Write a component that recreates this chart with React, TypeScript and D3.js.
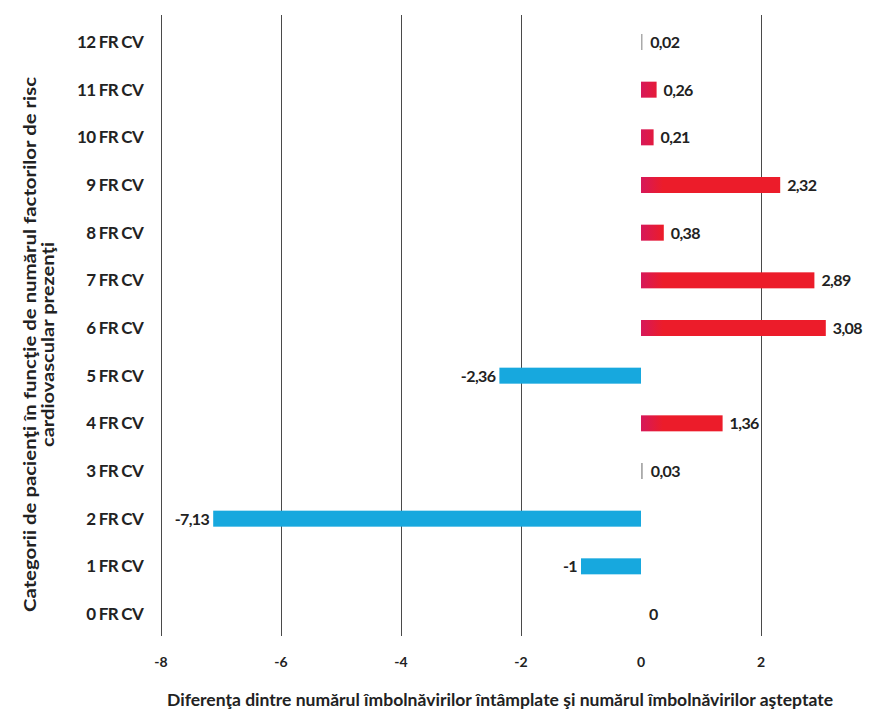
import React from "react";
import * as d3 from "d3";

const categories = ["12 FR CV","11 FR CV","10 FR CV","9 FR CV","8 FR CV","7 FR CV","6 FR CV","5 FR CV","4 FR CV","3 FR CV","2 FR CV","1 FR CV","0 FR CV"];
const values = [0.02,0.26,0.21,2.32,0.38,2.89,3.08,-2.36,1.36,0.03,-7.13,-1,0];
const labels = ["0,02","0,26","0,21","2,32","0,38","2,89","3,08","-2,36","1,36","0,03","-7,13","-1","0"];
const xTicks = [-8,-6,-4,-2,0,2];
const xTitle = "Diferenţa dintre numărul îmbolnăvirilor întâmplate şi numărul îmbolnăvirilor aşteptate";
const yTitle1 = "Categorii de pacienţi în funcţie de numărul  factorilor de risc";
const yTitle2 = "cardiovascular prezenţi";

const W = 877, H = 714;
const FONT = "Lato, 'Open Sans', sans-serif";

export default function App() {
  const x = d3.scaleLinear().domain([-8, 4]).range([161, 881]);
  const y = d3.scalePoint<string>().domain(categories).range([42, 614]);
  const barH = 16;
  const x0 = x(0);
  return (
    <svg width={W} height={H} style={{ position: "absolute", left: 0, top: 0, background: "#fff" }} fontFamily={FONT}>
      <defs>
        <linearGradient id="redg" gradientUnits="userSpaceOnUse" x1={x0} x2={x0 + 22} y1={0} y2={0}>
          <stop offset="0" stopColor="#d6185a" />
          <stop offset="1" stopColor="#ec1c2a" />
        </linearGradient>
      </defs>
      {xTicks.filter((t) => t !== 0).map((t) => (
        <line key={t} x1={x(t) + 0.5} x2={x(t) + 0.5} y1={15} y2={636} stroke="#4a4a4a" strokeWidth={1} />
      ))}
      {xTicks.map((t) => (
        <text key={"t" + t} x={x(t)} y={667} textAnchor="middle" fontSize={14} fontWeight={700} fill="#222">{t}</text>
      ))}
      {categories.map((c, i) => {
        const v = values[i];
        const yc = y(c)!;
        const xs = Math.min(x(v), x0);
        const w = Math.abs(x(v) - x0);
        const small = Math.abs(v) < 0.1;
        return (
          <g key={c}>
            <text x={143} y={yc + 6} textAnchor="end" fontSize={17} fontWeight={700} fill="#222" letterSpacing={-0.7}>{c}</text>
            {v !== 0 && (
              <rect x={xs} y={yc - barH / 2} width={Math.max(w, 1.5)} height={barH}
                fill={small ? "#aaa" : v > 0 ? "url(#redg)" : "#17a8de"} />
            )}
            <text x={v < 0 ? x(v) - 4 : x(Math.max(v, 0)) + (small ? 8 : 7)} y={yc + 6}
              textAnchor={v < 0 ? "end" : "start"} fontSize={16} fontWeight={700} fill="#222" letterSpacing={-0.6}>{labels[i]}</text>
          </g>
        );
      })}
      <text x={500} y={706} textAnchor="middle" fontSize={17} fontWeight={700} fill="#222"
        textLength={666} lengthAdjust="spacingAndGlyphs">{xTitle}</text>
      <text transform="translate(36,344.5) rotate(-90)" textAnchor="middle" fontSize={17} fontWeight={700} fill="#222"
        textLength={535} lengthAdjust="spacingAndGlyphs">{yTitle1}</text>
      <text transform="translate(54,344.5) rotate(-90)" textAnchor="middle" fontSize={17} fontWeight={700} fill="#222"
        textLength={205} lengthAdjust="spacingAndGlyphs">{yTitle2}</text>
    </svg>
  );
}
